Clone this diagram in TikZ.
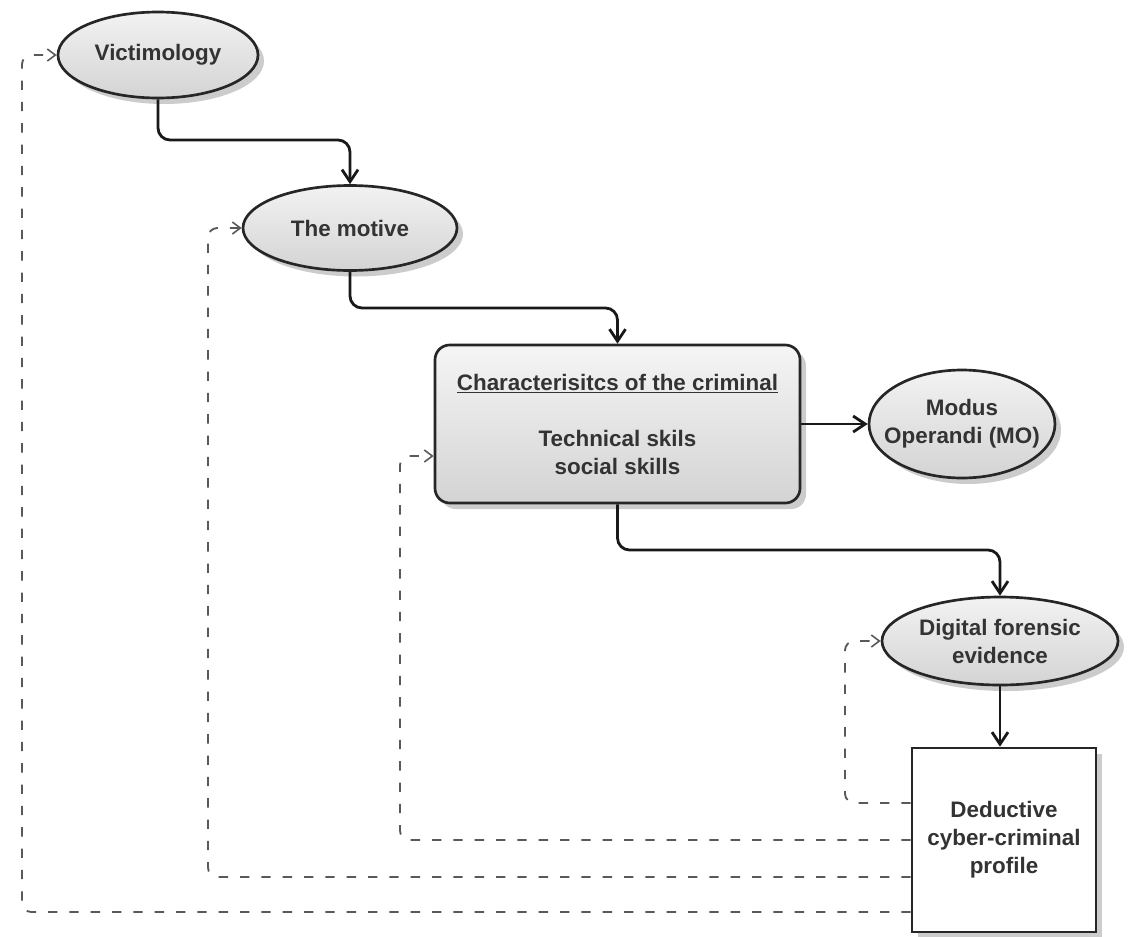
\documentclass[tikz,border=0pt]{standalone}
\usepackage{fontspec}
\setmainfont{Liberation Sans}
\usetikzlibrary{shapes.geometric,shadows,arrows.meta,calc}
\begin{document}
\begin{tikzpicture}[x=0.75pt,y=-0.75pt,
  every node/.style={font=\fontsize{16.8}{21}\selectfont\bfseries, text=black!80, align=center, inner sep=0pt},
  shd/.style={drop shadow={shadow xshift=4.5pt,shadow yshift=-4.5pt,fill=black!40,opacity=0.5}},
  ell/.style={ellipse, draw=black!85, line width=2pt, top color=gray!10, bottom color=gray!34, shd},
  cbox/.style={rectangle, rounded corners=11pt, draw=black!85, line width=2pt, top color=gray!8, bottom color=gray!34, shd},
  dbox/.style={rectangle, draw=black!85, line width=2pt, fill=white, shd},
  conn/.style={line width=2.1pt, draw=black!90, rounded corners=9pt, -{Straight Barb[length=9pt,width=12pt]}},
  fb/.style={line width=1.4pt, draw=black!65, dash pattern=on 7pt off 9pt, rounded corners=7pt, -{Straight Barb[length=6pt,width=9pt,line width=1.2pt]}}
]
\useasboundingbox (0,0) rectangle (1128,936);

% nodes
\node[ell, minimum width=150pt, minimum height=64.5pt] (vic) at (158,55) {Victimology};
\node[ell, minimum width=160.5pt, minimum height=63.75pt] (mot) at (350,228) {The motive};
\node[cbox, minimum width=273.75pt, minimum height=118.5pt] (cha) at (617.5,424)
  {\underline{Characterisitcs of the criminal}\\[21pt]Technical skils\\social skills};
\node[ell, inner xsep=-11pt, inner ysep=-6pt, minimum width=139.5pt, minimum height=81pt] (mo) at (962,424) {Modus\\Operandi (MO)};
\node[ell, inner xsep=-4pt, minimum width=177pt, minimum height=66pt] (dig) at (1000,641) {Digital forensic\\evidence};
\node[dbox, minimum width=138pt, minimum height=138pt] (ded) at (1004,840) {Deductive\\cyber-criminal\\profile};

% solid connectors
\draw[conn] (vic.south) -- (vic.south |- 0,140) -- (mot.north |- 0,140) -- (mot.north);
\draw[conn] (mot.south) -- (mot.south |- 0,308) -- (cha.north |- 0,308) -- (cha.north);
\draw[conn] (cha.east) -- (mo.west);
\draw[conn] (cha.south) -- (cha.south |- 0,550) -- (dig.north |- 0,550) -- (dig.north);
\draw[conn] (dig.south) -- (dig.south |- ded.north);

% dashed feedback connectors
\coordinate (k1) at (845,641);
\coordinate (k2) at (400,456);
\coordinate (k3) at (208,228);
\coordinate (k4) at (22,55);
\draw[fb] (ded.west |- 0,803) -| (k1) -- (dig.west);
\draw[fb] (ded.west |- 0,840) -| (k2) -- (cha.west |- k2);
\draw[fb] (ded.west |- 0,877) -| (k3) -- (mot.west);
\draw[fb] (ded.west |- 0,912) -| (k4) -- (vic.west);
\end{tikzpicture}
\end{document}
